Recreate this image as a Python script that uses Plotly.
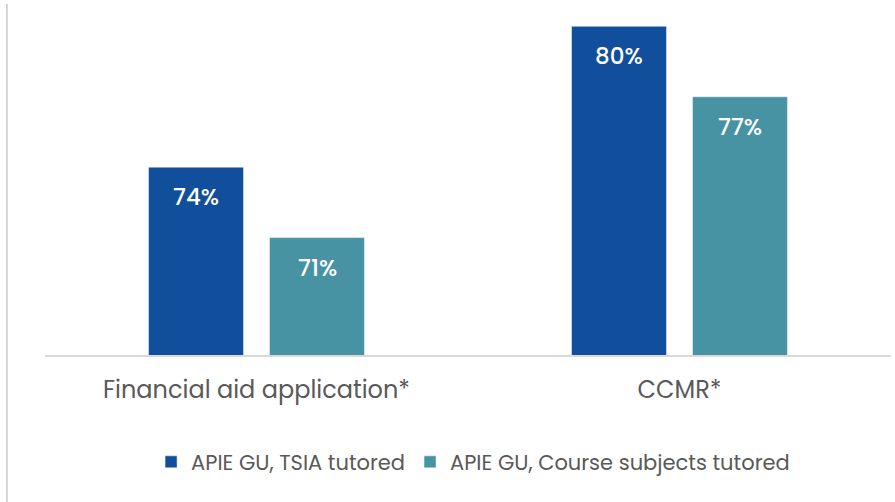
import plotly.graph_objects as go

categories = ["Financial aid application*", "CCMR*"]
series_names = ["APIE GU, TSIA tutored", "APIE GU, Course subjects tutored"]
tsia_values = [74, 80]
course_values = [71, 77]

colors = ["#114E9C", "#4893A3"]
FONT = "Poppins, Open Sans, sans-serif"

fig = go.Figure()
for name, vals, col in zip(series_names, [tsia_values, course_values], colors):
    fig.add_trace(go.Bar(
        x=categories, y=vals, name=name,
        marker=dict(color=col, line=dict(color="rgba(255,255,255,0.45)", width=1)),
        hoverinfo="skip",
    ))

# data labels inside bars near the top
offsets = [-60.5, 60.5]
annotations = []
for vals, dx in zip([tsia_values, course_values], offsets):
    for c, v in zip(categories, vals):
        annotations.append(dict(
            x=c, y=v, xref="x", yref="y", text=f"{v}%", showarrow=False,
            xshift=dx, yshift=-30, yanchor="middle",
            font=dict(family=FONT, size=23, color="white", weight=500),
        ))

fig.update_layout(
    width=895, height=502,
    margin=dict(l=45, r=4, t=20, b=147),
    paper_bgcolor="white", plot_bgcolor="white",
    barmode="group", bargap=0.428, bargroupgap=0.215,
    font=dict(family=FONT, color="#595959"),
    xaxis=dict(showline=True, linecolor="#d9d9d9", linewidth=2,
               tickfont=dict(size=24, color="#595959"),
               ticks="", ticklabelstandoff=12, showgrid=False),
    yaxis=dict(range=[66, 80.27], visible=False, showgrid=False),
    legend=dict(orientation="h", x=0.506, xanchor="center", y=-0.32, yanchor="middle",
                font=dict(size=21, color="#595959"), itemwidth=30,
                traceorder="normal"),
    annotations=annotations,
    shapes=[dict(type="line", xref="paper", yref="paper",
                 x0=-0.045, x1=-0.045, y0=1.048, y1=-0.45,
                 line=dict(color="#c8c8c8", width=1.5))],
)

fig.write_html("out.html", config={"displayModeBar": False},
               post_script="document.body.style.margin='0';")
